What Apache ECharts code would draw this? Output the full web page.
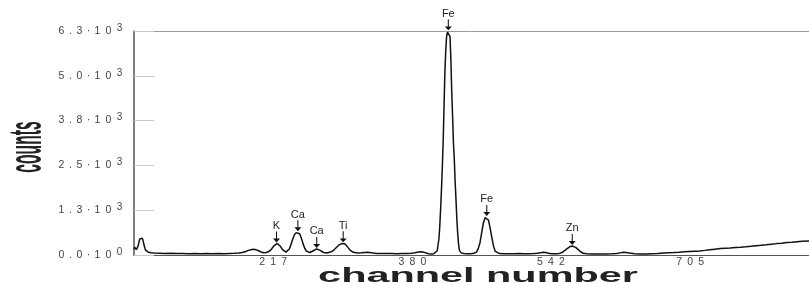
<!DOCTYPE html>
<html>
<head>
<meta charset="utf-8">
<script src="https://cdn.jsdelivr.net/npm/echarts@6/dist/echarts.min.js"></script>
<style>
html,body{margin:0;padding:0;background:#fff;}
#chart{width:809px;height:284px;}
</style>
</head>
<body>
<div id="chart"></div>
<script>
// ---- data ----
const channels = [54,55,56,57,58,59,60,61,62,63,64,65,66,67,68,69,71,74,78,84,90,97,104,111,118,125,132,139,146,153,160,166,172,177,181,185,188,191,194,197,200,203,206,209,212,215,218,220,222,224,226,228,230,232,234,236,238,240,242,244,246,248,250,252,254,256,258,260,262,264,266,268,270,272,274,276,278,280,282,285,288,291,294,297,299,301,303,305,307,309,311,313,316,320,324,327,330,334,338,344,350,356,362,368,374,379,383,387,390,393,396,399,402,405,407,409,411,412,413,414,415,416,417,418,419,420,421,422,423,424,425,426,427,428,429,430,431,432,433,434,435,437,440,444,448,452,455,457,459,461,463,465,467,469,471,473,475,477,479,482,487,493,499,505,511,517,522,526,530,533,536,539,543,548,552,555,558,561,564,567,569,571,574,577,580,584,590,598,606,613,619,623,627,630,634,640,646,653,660,667,674,680,686,692,698,704,710,716,722,728,734,740,746,752,758,764,770,776,782,788,794,800,806,812,818,824,830,836,844];
const counts = [160,220,190,150,170,250,360,450,490,500,470,390,280,190,130,100,80,65,55,50,45,48,40,44,38,42,36,40,35,40,38,45,50,55,70,100,130,150,160,150,120,85,65,70,100,160,260,310,325,300,230,150,95,80,100,170,300,450,570,630,640,600,480,320,190,110,75,70,85,120,155,170,160,130,95,70,60,58,65,90,140,210,280,320,330,315,270,200,140,100,75,60,58,62,72,75,70,55,45,42,40,42,38,40,42,50,65,85,90,80,55,35,30,35,60,120,450,800,1300,1850,2480,3200,4200,5150,5750,6150,6270,6290,6280,6150,5500,4600,3900,3150,2700,2050,1550,1000,600,300,130,60,40,35,38,50,80,180,340,620,900,1050,1070,980,750,480,240,100,55,40,35,38,35,40,36,38,40,50,65,78,70,50,38,35,45,70,120,180,230,255,250,215,150,85,50,35,30,28,30,35,45,60,75,72,55,35,25,28,35,42,55,62,68,78,90,100,108,115,130,150,165,180,192,200,210,220,232,245,260,272,288,305,320,332,350,362,375,385,395];

const peakNames = ['K','Ca','Ca','Ti','Fe','Fe','Zn'];
const peakChannels = [221,246,268,299,422,467,567];
const peakCounts = [325,640,170,330,6290,1070,255];

const xTickValues = [217,380,542,705];
const yTickMain = ['0.0','1.3','2.5','3.8','5.0','6.3'];
const yTickExp = ['0','3','3','3','3','3'];

const xMin = 54.25, xMax = 844;
const yMax = 6300, yInterval = 1260;

// ---- helpers ----
function richify(main, sup) {
  let s = main.split('').map(c => (/\d/.test(c) ? '{d|' + c + '}' : '{p|' + c + '}')).join('');
  if (sup !== undefined) s += '{s|' + sup + '}';
  return s;
}
const tickFont = 'Liberation Sans, Arial, sans-serif';
const tickColor = '#444';
const tickRich = {
  d: {width: 11, align: 'center', fontSize: 10.5, color: tickColor, fontFamily: tickFont},
  p: {width: 7, align: 'center', fontSize: 10.5, color: tickColor, fontFamily: tickFont},
  s: {width: 11, align: 'center', fontSize: 10, color: tickColor, fontFamily: tickFont, padding: [0, 0, 6, 0]}
};

const chart = echarts.init(document.getElementById('chart'), null, {renderer: 'canvas'});
const arrowPath = 'path://M4.4,0 L5.6,0 L5.6,11 L9,11 L5,17 L1,11 L4.4,11 Z';

chart.setOption({
  animation: false,
  backgroundColor: '#fff',
  grid: {left: 134, right: 0, top: 31, bottom: 29, containLabel: false},
  xAxis: [{
    type: 'value', min: xMin, max: xMax, position: 'bottom',
    axisLine: {show: true, lineStyle: {color: '#555', width: 1.2}},
    axisTick: {show: false},
    splitLine: {show: false},
    axisLabel: {
      customValues: xTickValues,
      margin: 2,
      formatter: v => richify(String(Math.round(v))),
      rich: tickRich
    }
  }, {
    type: 'value', min: xMin, max: xMax, position: 'top',
    axisLine: {show: true, lineStyle: {color: '#999', width: 1}},
    axisTick: {show: false}, axisLabel: {show: false}, splitLine: {show: false}
  }],
  yAxis: {
    type: 'value', min: 0, max: yMax, interval: yInterval,
    axisLine: {show: true, lineStyle: {color: '#555', width: 1.5}},
    axisTick: {show: true, inside: true, length: 20, lineStyle: {color: '#c8c8c8', width: 1}},
    splitLine: {show: false},
    axisLabel: {
      margin: 9,
      formatter: (v, i) => richify(yTickMain[i] + '·10', yTickExp[i]),
      rich: tickRich
    }
  },
  graphic: [{
    type: 'text', x: 28, y: 147, rotation: Math.PI / 2, scaleX: 0.34, scaleY: 1,
    style: {text: 'counts', x: 0, y: 0, fontSize: 46, fontWeight: 'bold', fontFamily: 'Liberation Sans, Arial, sans-serif',
      fill: '#222', textAlign: 'center', textVerticalAlign: 'middle'}
  }, {
    type: 'text', x: 478, y: 276, scaleX: 2.07, scaleY: 1,
    style: {text: 'channel number', x: 0, y: 0, fontSize: 20, fontWeight: 'bold',
      fontFamily: 'Liberation Sans, Arial, sans-serif', fill: '#222', textAlign: 'center', textVerticalAlign: 'middle'}
  }],
  series: [{
    type: 'line',
    data: channels.map((c, i) => [c, counts[i]]),
    showSymbol: false,
    symbol: 'none',
    lineStyle: {color: '#111', width: 1.5},
    silent: true,
    markPoint: {
      symbol: arrowPath,
      symbolSize: [7, 11],
      symbolKeepAspect: false,
      symbolOffset: [0, -6.5],
      itemStyle: {color: '#111'},
      label: {show: true, position: 'top', distance: 0, formatter: '{b}', fontSize: 11,
        color: '#222', fontFamily: 'Liberation Sans, Arial, sans-serif'},
      data: peakNames.map((n, i) => ({name: n, coord: [peakChannels[i], peakCounts[i]]}))
    }
  }]
});
</script>
</body>
</html>
